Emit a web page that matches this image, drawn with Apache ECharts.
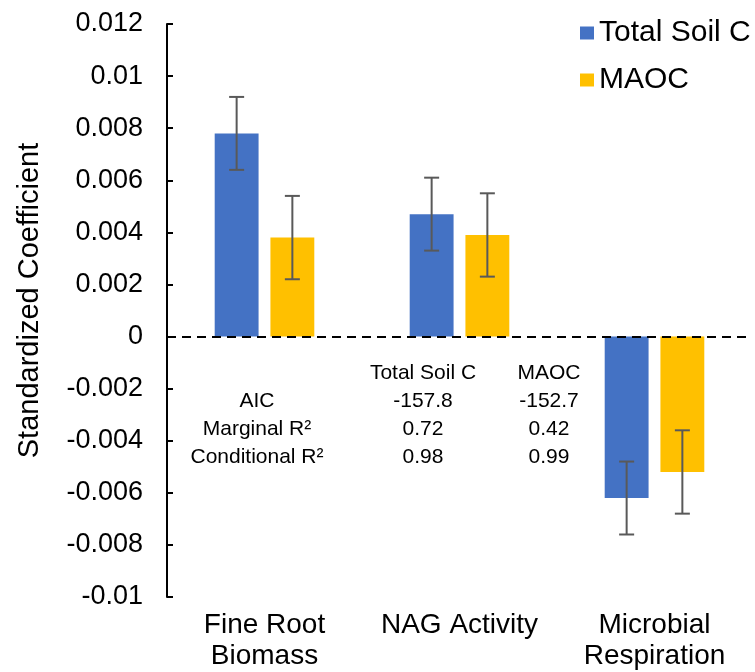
<!DOCTYPE html>
<html>
<head>
<meta charset="utf-8">
<script src="https://cdn.jsdelivr.net/npm/echarts@6/dist/echarts.min.js"></script>
<style>
  html, body { margin: 0; padding: 0; background: #fff; }
  #chart { width: 755px; height: 672px; }
</style>
</head>
<body>
<div id="chart"></div>
<script>
// 数据
const categories = ['Fine Root\nBiomass', 'NAG Activity', 'Microbial\nRespiration']
const seriesNames = ['Total Soil C', 'MAOC']
const totalSoilC = [0.0078, 0.0047, -0.0062]
const totalSoilCErr = [0.0014, 0.0014, 0.0014]
const maoc = [0.0038, 0.0039, -0.0052]
const maocErr = [0.0016, 0.0016, 0.0016]

// 模型统计表
const tableHeader = ['', 'Total Soil C', 'MAOC']
const tableRows = [
  ['AIC', '-157.8', '-152.7'],
  ['Marginal R²', '0.72', '0.42'],
  ['Conditional R²', '0.98', '0.99']
]

const colors = ['#4472C4', '#FFC000']
const font = '"Liberation Sans", Arial, Helvetica, sans-serif'

const BAR_W = 0.225 // 柱宽占类目带宽比例
const BAR_GAP = 0.27 // 柱间距占柱宽比例

const errorSeries = (values, errs, side) => ({
  type: 'custom',
  z: 5,
  silent: true,
  data: values.map((v, i) => [i, v - errs[i], v + errs[i]]),
  renderItem: (params, api) => {
    const band = api.size([1, 0])[0]
    const bw = band * BAR_W
    const off = side * (bw + bw * BAR_GAP) / 2
    const lo = api.coord([api.value(0), api.value(1)])
    const hi = api.coord([api.value(0), api.value(2)])
    const x = lo[0] + off
    const cap = 7.5
    const style = { stroke: '#595959', lineWidth: 2 }
    return {
      type: 'group',
      children: [
        { type: 'line', shape: { x1: x, y1: lo[1], x2: x, y2: hi[1] }, style },
        { type: 'line', shape: { x1: x - cap, y1: lo[1], x2: x + cap, y2: lo[1] }, style },
        { type: 'line', shape: { x1: x - cap, y1: hi[1], x2: x + cap, y2: hi[1] }, style }
      ]
    }
  }
})

// 表格文字
const colX = [257, 423, 549]
const rowY = [373, 401, 429, 457]
const tableTexts = []
;[tableHeader, ...tableRows].forEach((row, r) => {
  row.forEach((t, c) => {
    if (!t) return
    tableTexts.push({
      type: 'text',
      x: colX[c],
      y: rowY[r],
      silent: true,
      style: {
        text: t,
        fontSize: 21,
        fontFamily: font,
        fill: '#000',
        textAlign: 'center',
        textVerticalAlign: 'middle'
      }
    })
  })
})

const myChart = echarts.init(document.getElementById('chart'))

myChart.setOption({
  animation: false,
  color: colors,
  textStyle: { fontFamily: font },
  grid: { left: 167, right: 3, top: 24, bottom: 75 },
  legend: {
    data: seriesNames,
    orient: 'vertical',
    left: 580,
    top: 18,
    padding: 0,
    icon: 'rect',
    itemWidth: 14,
    itemHeight: 13,
    itemGap: 17,
    textStyle: { fontSize: 30, color: '#000', fontFamily: font, lineHeight: 30 }
  },
  xAxis: {
    type: 'category',
    data: categories,
    axisLine: { show: false },
    axisTick: { show: false },
    axisLabel: {
      interval: 0,
      margin: 13,
      fontSize: 28,
      lineHeight: 31,
      color: '#000',
      fontFamily: font
    }
  },
  yAxis: {
    type: 'value',
    min: -0.01,
    max: 0.012,
    interval: 0.002,
    name: 'Standardized Coefficient',
    nameLocation: 'middle',
    nameRotate: 90,
    nameGap: 123,
    nameTextStyle: { fontSize: 29, color: '#000', fontFamily: font, padding: [0, 0, 0, 20] },
    axisLine: { show: true, lineStyle: { color: '#000', width: 2 } },
    axisTick: { show: true, inside: true, length: 6, lineStyle: { color: '#000', width: 2 } },
    axisLabel: {
      margin: 24,
      fontSize: 27,
      color: '#000',
      fontFamily: font,
      formatter: v => String(+v.toFixed(3))
    },
    splitLine: { show: false }
  },
  series: [
    {
      name: seriesNames[0],
      type: 'bar',
      barWidth: (BAR_W * 100) + '%',
      barGap: (BAR_GAP * 100) + '%',
      data: totalSoilC,
      itemStyle: { color: colors[0] },
      markLine: {
        silent: true,
        symbol: 'none',
        label: { show: false },
        lineStyle: { color: '#000', type: [9, 6], width: 2 },
        data: [{ yAxis: 0 }]
      }
    },
    {
      name: seriesNames[1],
      type: 'bar',
      barWidth: (BAR_W * 100) + '%',
      barGap: (BAR_GAP * 100) + '%',
      data: maoc,
      itemStyle: { color: colors[1] }
    },
    errorSeries(totalSoilC, totalSoilCErr, -1),
    errorSeries(maoc, maocErr, 1)
  ],
  graphic: tableTexts
})
</script>
</body>
</html>
